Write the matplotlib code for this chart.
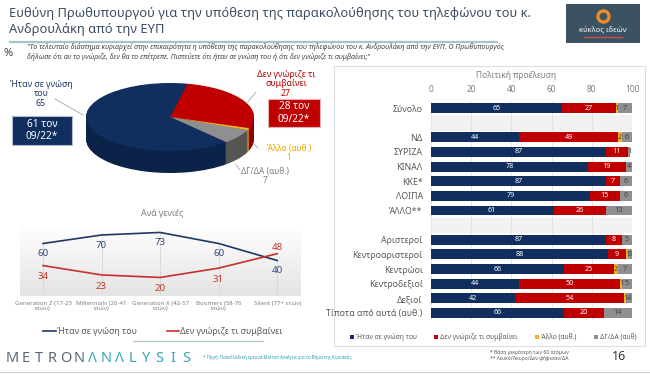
import numpy as np
import matplotlib.pyplot as plt
from matplotlib.patches import Rectangle
from matplotlib.lines import Line2D
from matplotlib.colors import LinearSegmentedColormap

plt.rcParams['font.family'] = ['Noto Sans', 'DejaVu Sans']

# --- data ---
# pie (overall answer), drawn clockwise from the top
pie_labels = ['Δεν γνώριζε τι συμβαίνει', 'Άλλο (αυθ.)', 'ΔΓ/ΔΑ (αυθ.)', 'Ήταν σε γνώση του']
pie_values = [27, 1, 7, 65]
prev_know = 61   # 09/22
prev_dont = 28   # 09/22

# by generation
gen_labels = ['Generation Z (17-25\nετών)', 'Millennials (26-41\nετών)',
              'Generation X (42-57\nετών)', 'Boomers (58-76\nετών)', 'Silent (77+ ετών)']
gen_know = [60, 70, 73, 60, 40]
gen_dont = [34, 23, 20, 31, 48]

# by political origin ('' = spacer row)
bar_groups = ['Σύνολο', '', 'ΝΔ', 'ΣΥΡΙΖΑ', 'ΚΙΝΑΛ', 'ΚΚΕ*', 'ΛΟΙΠΑ', 'ΆΛΛΟ**', '',
              'Αριστεροί', 'Κεντροαριστεροί', 'Κεντρώοι', 'Κεντροδεξιοί', 'Δεξιοί',
              'Τίποτα από αυτά (αυθ.)']
bar_know = [65, 0, 44, 87, 78, 87, 79, 61, 0, 87, 88, 66, 44, 42, 66]
bar_dont = [27, 0, 49, 11, 19, 7, 15, 26, 0, 8, 9, 25, 50, 54, 20]
bar_other = [1, 0, 2, 0, 0, 0, 0, 0, 0, 0, 1, 2, 1, 1, 0]
bar_dkna = [7, 0, 6, 1, 4, 6, 6, 13, 0, 5, 3, 7, 5, 4, 14]
series_names = ['Ήταν σε γνώση του', 'Δεν γνώριζε τι συμβαίνει', 'Άλλο (αυθ.)', 'ΔΓ/ΔΑ (αυθ)']

NAVY = '#102f5e'
RED = '#c00000'
ORANGE = '#f3b21f'
GRAY = '#8f8f8f'

W, H = 650, 374
fig = plt.figure(figsize=(6.5, 3.74), dpi=100)
fig.patch.set_facecolor('white')


def fx(px):
    return px / W


def fy(py):
    return 1 - py / H


def axes_px(x0, y0, x1, y1):
    return fig.add_axes([x0 / W, 1 - y1 / H, (x1 - x0) / W, (y1 - y0) / H])


def line_px(xs, ys, **kw):
    fig.add_artist(Line2D([fx(x) for x in xs], [fy(y) for y in ys],
                          transform=fig.transFigure, **kw))


# --- header ---
fig.text(fx(9), fy(21), 'Ευθύνη Πρωθυπουργού για την υπόθεση της παρακολούθησης του τηλεφώνου του κ.\n'
         'Ανδρουλάκη από την ΕΥΠ', ha='left', va='center', fontsize=9.3,
         color='#3b4e63', linespacing=1.3)
line_px([10, 497], [42, 42], color='#a9c3ca', lw=1.6)
fig.text(fx(4), fy(53), '%', fontsize=8, fontweight='bold', color='#444444', va='center')
fig.text(fx(27), fy(52), '"Το τελευταίο διάστημα κυριαρχεί στην επικαιρότητα η υπόθεση της παρακολούθησης '
         'του τηλεφώνου του κ. Ανδρουλάκη από την ΕΥΠ. Ο Πρωθυπουργός\n'
         'δήλωσε ότι αν το γνώριζε, δεν θα το επέτρεπε. Πιστεύετε ότι ήταν σε γνώση του ή '
         'ότι δεν γνώριζε τι συμβαίνει;"', ha='left', va='center', fontsize=5.1,
         style='italic', fontweight='bold', color='#404040', linespacing=1.3)

# logo
fig.add_artist(Rectangle((fx(566), fy(43)), 74 / W, 39 / H, transform=fig.transFigure,
                         fc='#3b5262', ec='none'))
fig.add_artist(Line2D([fx(603)], [fy(16)], transform=fig.transFigure, marker='o',
                      markersize=8, mfc='none', mec='#f08a24', mew=2.4))
fig.text(fx(603), fy(30), 'κύκλος ιδεών', ha='center', va='center', fontsize=5.5, color='white')
line_px([584, 622], [37, 37], color='#c0504d', lw=1)

# --- pie ---
ax_pie = axes_px(86, 83, 254, 173)
side_cols = ['#8c0000', '#c07f10', '#555555', '#0b2349']
top_cols = [RED, ORANGE, GRAY, NAVY]
depth = 0.65
for k in np.linspace(depth, 0.02, 30):
    ax_pie.pie(pie_values, colors=side_cols, startangle=78, counterclock=False,
               center=(0, -k), wedgeprops=dict(linewidth=0))
ax_pie.pie(pie_values, colors=top_cols, startangle=78, counterclock=False,
           wedgeprops=dict(linewidth=0))
ax_pie.set_aspect('auto')
ax_pie.set_xlim(-1, 1)
ax_pie.set_ylim(-1 - depth, 1)
ax_pie.axis('off')

fig.text(fx(41), fy(94), f'Ήταν σε γνώση\nτου\n{pie_values[3]}', ha='center', va='center',
         fontsize=6.3, fontweight='bold', color='#1f3864', linespacing=1.1)
fig.text(fx(286), fy(84), f'Δεν γνώριζε τι\nσυμβαίνει\n{pie_values[0]}', ha='center', va='center',
         fontsize=6.3, fontweight='bold', color=RED, linespacing=1.1)
fig.text(fx(289), fy(153), f'Άλλο (αυθ.)\n{pie_values[1]}', ha='center', va='center',
         fontsize=6, fontweight='bold', color='#e6a800', linespacing=1.05)
fig.text(fx(265), fy(176), f'ΔΓ/ΔΑ (αυθ.)\n{pie_values[2]}', ha='center', va='center',
         fontsize=6, color='#7f7f7f', linespacing=1.1)
line_px([55, 83], [99, 115], color='#a6a6a6', lw=0.6)
line_px([256, 247], [92, 103], color='#a6a6a6', lw=0.6)
line_px([258, 253], [148, 143], color='#a6a6a6', lw=0.6)
line_px([240, 236], [170, 165], color='#a6a6a6', lw=0.6)

fig.add_artist(Rectangle((fx(12), fy(145)), 60 / W, 29 / H, transform=fig.transFigure,
                         fc=NAVY, ec='#b0bccb', lw=0.8))
fig.text(fx(42), fy(130.5), f'{prev_know} τον\n09/22*', ha='center', va='center',
         fontsize=7.3, color='white', linespacing=1.15)
fig.add_artist(Rectangle((fx(268), fy(127)), 52 / W, 28 / H, transform=fig.transFigure,
                         fc=RED, ec='#e3b0b0', lw=0.8))
fig.text(fx(294), fy(113), f'{prev_dont} τον\n09/22*', ha='center', va='center',
         fontsize=7.3, color='white', linespacing=1.15)

# --- generations ---
fig.text(fx(162), fy(214), 'Ανά γενιές', ha='center', va='center', fontsize=6.3, color='#7f7f7f')
ax_gen = axes_px(19.6, 224.8, 300.6, 296.5)
xs = np.arange(len(gen_labels))
grad = LinearSegmentedColormap.from_list('g', ['#ffffff', '#e4e4e4'])
ax_gen.imshow(np.linspace(0, 1, 100).reshape(-1, 1), cmap=grad, aspect='auto',
              extent=(0, 1, 0, 1), transform=ax_gen.transAxes, zorder=0)
ax_gen.vlines(xs, 0, gen_know, color='#d6d6d6', lw=0.6, zorder=1)
l1, = ax_gen.plot(xs, gen_know, color='#1f3864', lw=1.2, zorder=3)
l2, = ax_gen.plot(xs, gen_dont, color='#c8302c', lw=1.2, zorder=3)
for x, k, d in zip(xs, gen_know, gen_dont):
    ax_gen.annotate(str(k), (x, k), xytext=(0, -7.5), textcoords='offset points',
                    ha='center', va='center', fontsize=7, fontweight='bold', color='#2f4b7c')
    off = 4.5 if d > k else -8
    ax_gen.annotate(str(d), (x, d), xytext=(0, off), textcoords='offset points',
                    ha='center', va='center', fontsize=7, fontweight='bold', color='#c0392b')
ax_gen.set_xlim(-0.4, 4.4)
ax_gen.set_ylim(-2.4, 82)
ax_gen.set_xticks(xs, gen_labels)
ax_gen.set_yticks([])
ax_gen.tick_params(axis='x', length=0, labelsize=4.4, labelcolor='#7f7f7f', pad=3)
for s in ax_gen.spines.values():
    s.set_visible(False)
ax_gen.legend([l1, l2], ['Ήταν σε γνώση του', 'Δεν γνώριζε τι συμβαίνει'], loc='center',
              bbox_to_anchor=(fx(163), fy(332)), bbox_transform=fig.transFigure, ncol=2,
              frameon=False, fontsize=6.3, handlelength=1.4, handletextpad=0.1,
              columnspacing=3.5, labelcolor='#595959')

# --- political origin panel ---
fig.add_artist(Rectangle((fx(334), fy(346)), 311 / W, 280 / H, transform=fig.transFigure,
                         fc='white', ec='#dedede', lw=0.8, zorder=-1))
fig.text(fx(516), fy(76), 'Πολιτική προέλευση', ha='center', va='center', fontsize=6, color='#7f7f7f')
ax_bar = axes_px(431, 100.7, 632, 320.3)
ax_bar.set_facecolor('none')
y = np.arange(len(bar_groups))
left = np.zeros(len(y))
series = [bar_know, bar_dont, bar_other, bar_dkna]
colors = [NAVY, RED, ORANGE, GRAY]
label_cols = ['white', 'white', '#404040', '#404040']
containers = []
for vals, c, lc in zip(series, colors, label_cols):
    vals = np.array(vals)
    bc = ax_bar.barh(y, vals, left=left, height=0.68, color=c, zorder=2)
    ax_bar.bar_label(bc, labels=[str(v) if v else '' for v in vals], label_type='center',
                     color=lc, fontsize=5.2, fontweight='bold')
    containers.append(bc)
    left = left + vals
for i, g in enumerate(bar_groups):
    if not g:
        ax_bar.axhspan(i - 0.5, i + 0.5, color='#f1f1f1', zorder=0)
ax_bar.set_xlim(0, 100)
ax_bar.set_ylim(len(y) - 0.5, -0.5)
ax_bar.xaxis.tick_top()
ax_bar.set_xticks([0, 20, 40, 60, 80, 100])
ax_bar.set_yticks(y, bar_groups)
ax_bar.tick_params(axis='x', length=0, pad=5, labelsize=6, labelcolor='#7f7f7f')
ax_bar.tick_params(axis='y', length=0, pad=6, labelsize=6.3, labelcolor='#595959')
ax_bar.grid(axis='x', color='#e2e2e2', lw=0.6, zorder=1)
ax_bar.set_axisbelow(True)
for s in ax_bar.spines.values():
    s.set_visible(False)
ax_bar.legend(containers, series_names, loc='center', bbox_to_anchor=(fx(493), fy(337)),
              bbox_transform=fig.transFigure, ncol=4, frameon=False, fontsize=4.8,
              handlelength=0.6, handleheight=0.6, handletextpad=0.3, columnspacing=2.6,
              labelcolor='#595959')

# --- footer ---
line_px([133, 263], [341, 341], color='#b3c7cc', lw=1)
line_px([0, 650], [372, 372], color='#d0d0d0', lw=0.8)
brand = 'METRONΛNΛLYSIS'
for i, ch in enumerate(brand):
    fig.text(fx(12 + i * 13.4), fy(358), ch, ha='center', va='center', fontsize=10.5,
             color='#56687a' if i < 6 else '#35a7b8')
fig.text(fx(203), fy(358), '* Πηγή: Πανελλαδική έρευνα Metron Analysis για το Βήμα της Κυριακής',
         ha='left', va='center', fontsize=3.2, color='#2a9fb0')
fig.text(fx(490), fy(355.5), '* Βάση μικρότερη των 60 ατόμων\n** Λευκό/Άκυρο/Δεν ψήφισαν/ΔΑ',
         ha='left', va='center', fontsize=3.6, color='#555555', linespacing=1.3)
fig.text(fx(612), fy(357), '16', ha='left', va='center', fontsize=9, fontweight='bold', color='#333333')

fig.savefig('out.png', dpi=100)
